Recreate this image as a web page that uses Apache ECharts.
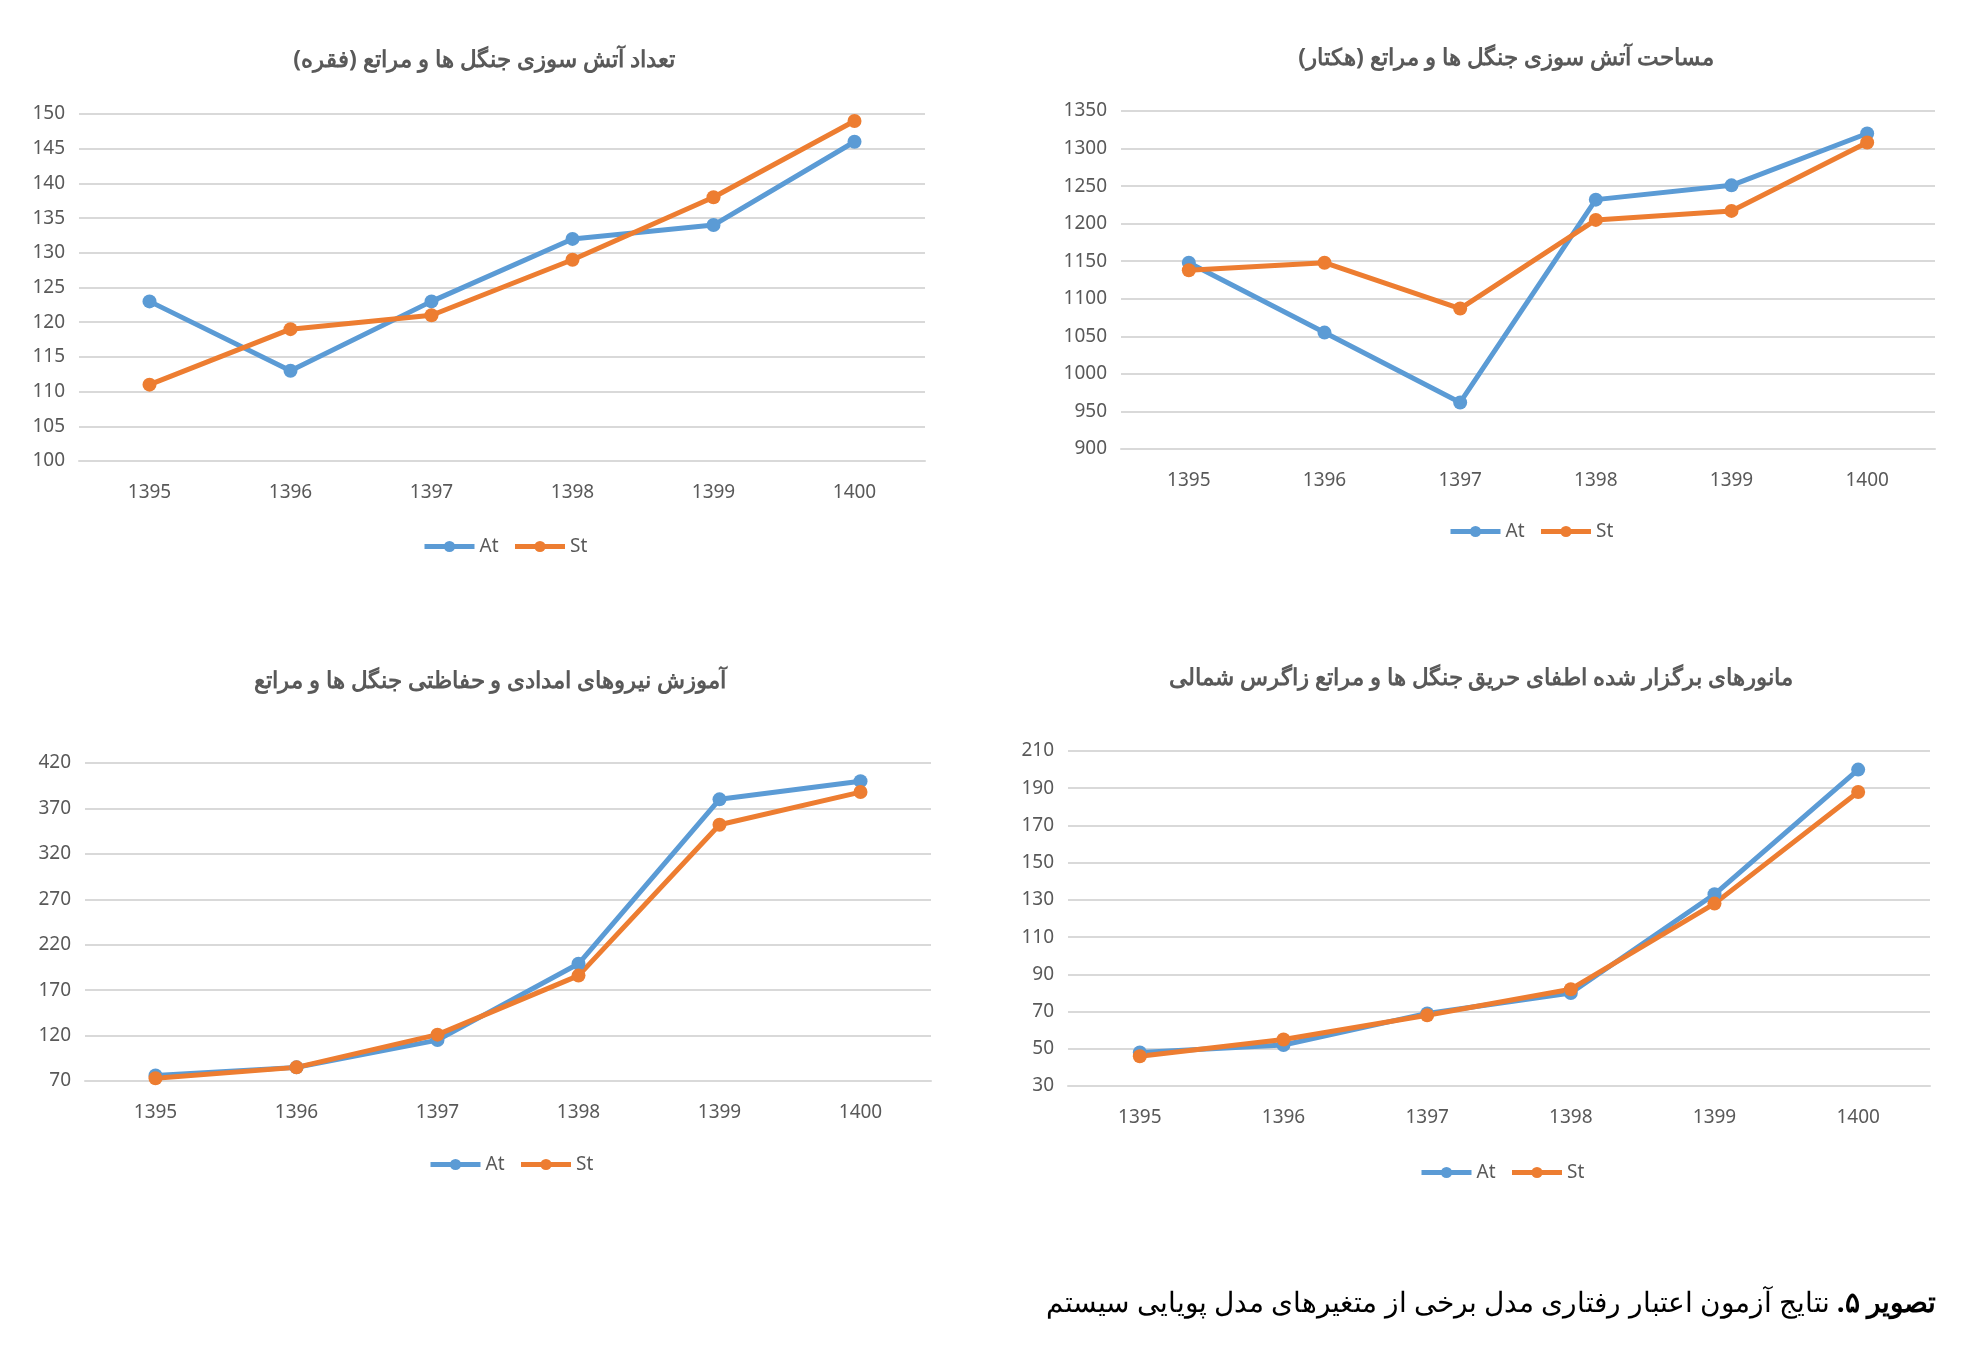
<!DOCTYPE html>
<html><head><meta charset="utf-8">
<script src="https://cdn.jsdelivr.net/npm/echarts@6/dist/echarts.min.js"></script>
<style>html,body{margin:0;padding:0;background:#fff}#c{width:1964px;height:1367px}</style>
</head><body><div id="c"></div>
<script>
var years = ['1395', '1396', '1397', '1398', '1399', '1400'];
// تعداد آتش سوزی
var countAt = [123, 113, 123, 132, 134, 146];
var countSt = [111, 119, 121, 129, 138, 149];
// مساحت آتش سوزی
var areaAt = [1148, 1055, 962, 1232, 1251, 1320];
var areaSt = [1138, 1148, 1087, 1205, 1217, 1308];
// آموزش نیروها
var trainAt = [76, 85, 115, 199, 380, 400];
var trainSt = [73, 85, 121, 186, 352, 388];
// مانورها
var manAt = [48, 52, 69, 80, 133, 200];
var manSt = [46, 55, 68, 82, 128, 188];

var titles = ['تعداد آتش سوزی جنگل ها و مراتع (فقره)', 'مساحت آتش سوزی جنگل ها و مراتع (هکتار)',
    'آموزش نیروهای امدادی و حفاظتی جنگل ها و مراتع', 'مانورهای برگزار شده اطفای حریق جنگل ها و مراتع زاگرس شمالی'];
var yAxes = [{min: 100, max: 150, interval: 5}, {min: 900, max: 1350, interval: 50},
    {min: 70, max: 420, interval: 50}, {min: 30, max: 210, interval: 20}];
var seriesData = [[countAt, countSt], [areaAt, areaSt], [trainAt, trainSt], [manAt, manSt]];

// layout
var grids = [
    {left: 79, top: 114, width: 846, height: 347},
    {left: 1121, top: 111, width: 814, height: 338},
    {left: 85, top: 763, width: 846, height: 318},
    {left: 1068, top: 751, width: 862, height: 335}
];
var titlePos = [[479, 44], [1501, 42], [485, 665], [1476, 662]];
var legendTop = [532, 517, 1150, 1158];
var txt = '#595959';
var font = '"Noto Sans", sans-serif';

var chart = echarts.init(document.getElementById('c'));
var option = {
    animation: false,
    color: ['#5B9BD5', '#ED7D31'],
    title: [], grid: [], xAxis: [], yAxis: [], series: [], legend: [],
    graphic: [{
        type: 'text', right: 28, top: 1290,
        style: {
            text: '{n|نتایج آزمون اعتبار رفتاری مدل برخی از متغیرهای مدل پویایی سیستم}  {b|.تصویر ۵}',
            rich: {
                n: {fontSize: 28, fontFamily: font, fill: '#000'},
                b: {fontSize: 28, fontFamily: font, fontWeight: 'bold', fill: '#000'}
            }
        }
    }]
};
for (var i = 0; i < 4; i++) {
    option.title.push({
        text: titles[i], left: titlePos[i][0], top: titlePos[i][1], textAlign: 'center',
        textStyle: {fontSize: 23, fontWeight: 'bold', color: txt, fontFamily: font}
    });
    option.grid.push(grids[i]);
    option.xAxis.push({
        type: 'category', gridIndex: i, data: years,
        axisLine: {lineStyle: {color: '#d9d9d9', width: 2}}, axisTick: {show: false},
        axisLabel: {fontSize: 19, color: txt, margin: 22, fontFamily: font}
    });
    option.yAxis.push({
        type: 'value', gridIndex: i, min: yAxes[i].min, max: yAxes[i].max, interval: yAxes[i].interval,
        axisLine: {show: false}, axisTick: {show: false},
        axisLabel: {fontSize: 19, color: txt, fontFamily: font, margin: 14,
            formatter: function (v) { return String(v); }},
        splitLine: {lineStyle: {color: '#d9d9d9', width: 2}}
    });
    var names = ['At', 'St'];
    for (var s = 0; s < 2; s++) {
        option.series.push({
            name: names[s], type: 'line', xAxisIndex: i, yAxisIndex: i, data: seriesData[i][s],
            symbol: 'circle', symbolSize: 14, lineStyle: {width: 5}
        });
    }
    option.legend.push({
        data: names, left: grids[i].left + grids[i].width / 2 - 85, top: legendTop[i],
        itemWidth: 50, itemHeight: 14, itemGap: 14,
        lineStyle: {width: 5},
        textStyle: {fontSize: 19, color: txt, fontFamily: font}
    });
}
chart.setOption(option);
</script>
</body></html>
